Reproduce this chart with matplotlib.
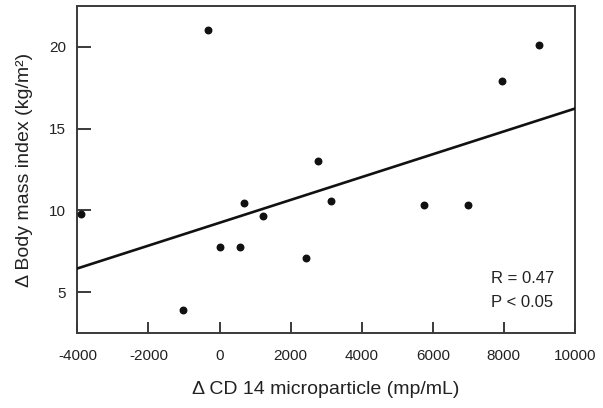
import matplotlib.pyplot as plt
import numpy as np

plt.rcParams['font.family'] = ['Liberation Sans', 'DejaVu Sans']
plt.rcParams['axes.unicode_minus'] = False

# points
cd14_mp = [-3907, -1029, -317, 0, 571, 701, 1215, 2432, 2757, 3142, 5759, 6985, 7938, 8976]
bmi_change = [9.78, 3.93, 21.0, 7.79, 7.79, 10.45, 9.68, 7.12, 13.0, 10.55, 10.33, 10.33, 17.9, 20.1]

# regression line as drawn
fit_slope = 0.000697
fit_intercept = 9.25

x_ticks = [-4000, -2000, 0, 2000, 4000, 6000, 8000, 10000]
y_ticks = [5, 10, 15, 20]

fig = plt.figure(figsize=(6.03, 4.08), dpi=100)
ax = fig.add_axes([0.1284, 0.183, 0.825, 0.803])

edge = '#3a3a3a'

xs = np.array([-4000, 10000])
ax.plot(xs, fit_intercept + fit_slope * xs, color='#111111', lw=1.9, zorder=3)
ax.scatter(cd14_mp, bmi_change, s=22, color='#111111', zorder=4, clip_on=False)

ax.set_xlim(-4000, 10000)
ax.set_ylim(2.5, 22.5)
ax.set_xticks(x_ticks)
ax.set_yticks(y_ticks)

for sp in ax.spines.values():
    sp.set_color(edge)
    sp.set_linewidth(1.4)

ax.tick_params(axis='x', direction='in', length=8, width=1.4, color=edge,
               labelsize=11, pad=11, labelcolor='#222222')
ax.tick_params(axis='y', direction='in', length=10, width=1.4, color=edge,
               labelsize=11, pad=8, labelcolor='#222222')

ax.set_xlabel('Δ CD 14 microparticle (mp/mL)', fontsize=14, color='#222222', labelpad=13)
ax.set_ylabel('Δ Body mass index (kg/m²)', fontsize=14, color='#222222', labelpad=12)

ax.text(0.832, 0.166, 'R = 0.47', transform=ax.transAxes, fontsize=12,
        color='#222222', va='center', ha='left')
ax.text(0.832, 0.093, 'P < 0.05', transform=ax.transAxes, fontsize=12,
        color='#222222', va='center', ha='left')

fig.savefig('out.png', dpi=100)
